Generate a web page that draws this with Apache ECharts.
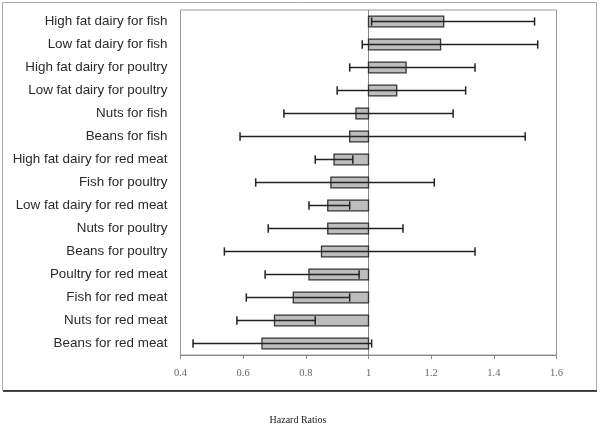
<!DOCTYPE html>
<html>
<head>
<meta charset="utf-8">
<script src="https://cdn.jsdelivr.net/npm/echarts@6/dist/echarts.min.js"></script>
<style>
html,body{margin:0;padding:0;background:#fff;}
#chart{width:601px;height:426px;}
</style>
</head>
<body>
<div id="chart"></div>
<script>
const categories = [
  "High fat dairy for fish",
  "Low fat dairy for fish",
  "High fat dairy for poultry",
  "Low fat dairy for poultry",
  "Nuts for fish",
  "Beans for fish",
  "High fat dairy for red meat",
  "Fish for poultry",
  "Low fat dairy for red meat",
  "Nuts for poultry",
  "Beans for poultry",
  "Poultry for red meat",
  "Fish for red meat",
  "Nuts for red meat",
  "Beans for red meat"
];
const hazardRatio = [1.24, 1.23, 1.12, 1.09, 0.96, 0.94, 0.89, 0.88, 0.87, 0.87, 0.85, 0.81, 0.76, 0.70, 0.66];
const ciLower     = [1.01, 0.98, 0.94, 0.90, 0.73, 0.59, 0.83, 0.64, 0.81, 0.68, 0.54, 0.67, 0.61, 0.58, 0.44];
const ciUpper     = [1.53, 1.54, 1.34, 1.31, 1.27, 1.50, 0.95, 1.21, 0.94, 1.11, 1.34, 0.97, 0.94, 0.83, 1.01];
const xTicks = { min: 0.4, max: 1.6, interval: 0.2 };
const baseline = 1;
const axisTitle = "Hazard Ratios";

const data = categories.map((c, i) => [i, hazardRatio[i], ciLower[i], ciUpper[i]]);

const chart = echarts.init(document.getElementById('chart'), null, {renderer: 'canvas'});

function renderItem(params, api) {
  const i = api.value(0);
  const hr = api.value(1), lo = api.value(2), hi = api.value(3);
  const band = api.size([0, 1])[1];
  const bh = band * 0.47;
  const ch = band * 0.36;
  const pBase = api.coord([baseline, i]);
  const pHr = api.coord([hr, i]);
  const pLo = api.coord([lo, i]);
  const pHi = api.coord([hi, i]);
  const x0 = Math.min(pBase[0], pHr[0]);
  const w = Math.abs(pBase[0] - pHr[0]);
  const y = pBase[1];
  return {
    type: 'group',
    children: [
      { type: 'rect', shape: { x: x0, y: y - bh / 2, width: w, height: bh },
        style: { fill: '#bdbdbd', stroke: '#333', lineWidth: 1.3 } },
      { type: 'line', shape: { x1: pLo[0], y1: y, x2: pHi[0], y2: y },
        style: { stroke: '#222', lineWidth: 1.5 } },
      { type: 'line', shape: { x1: pLo[0], y1: y - ch / 2, x2: pLo[0], y2: y + ch / 2 },
        style: { stroke: '#222', lineWidth: 1.5 } },
      { type: 'line', shape: { x1: pHi[0], y1: y - ch / 2, x2: pHi[0], y2: y + ch / 2 },
        style: { stroke: '#222', lineWidth: 1.5 } }
    ]
  };
}

chart.setOption({
  animation: false,
  backgroundColor: '#fff',
  grid: { left: 180.5, right: 44.5, top: 10, bottom: 71, containLabel: false,
          show: true, borderColor: '#999', borderWidth: 1 },
  xAxis: {
    type: 'value', min: xTicks.min, max: xTicks.max, interval: xTicks.interval,
    axisLine: { show: true, lineStyle: { color: '#888', width: 1 } },
    axisTick: { show: true, length: 4, lineStyle: { color: '#888' } },
    axisLabel: { color: '#666', fontFamily: 'Liberation Serif, Times New Roman, serif', fontSize: 10.5, margin: 13 },
    splitLine: { show: false }
  },
  yAxis: {
    type: 'category', data: categories, inverse: true,
    axisLine: { show: false }, axisTick: { show: false },
    axisLabel: { color: '#2a2a2a', fontFamily: 'Liberation Sans, Arial, sans-serif', fontSize: 13.4, margin: 13 },
    splitLine: { show: false }
  },
  series: [{
    type: 'custom',
    renderItem: renderItem,
    encode: { x: [1, 2, 3], y: 0 },
    data: data,
    z: 3,
    markLine: {
      silent: true, symbol: 'none', label: { show: false },
      lineStyle: { color: '#888', type: 'solid', width: 1 },
      data: [{ xAxis: baseline }],
      z: 2
    }
  }],
  graphic: [
    { type: 'rect', shape: { x: 2.5, y: 2.5, width: 594, height: 388 },
      style: { fill: 'none', stroke: '#aaa', lineWidth: 1 }, silent: true },
    { type: 'line', shape: { x1: 3, y1: 391, x2: 597, y2: 391 },
      style: { stroke: '#111', lineWidth: 1.5 }, silent: true },
    { type: 'text', x: 298, y: 420,
      style: { text: axisTitle, fill: '#222', font: '10px "Liberation Serif", "Times New Roman", serif',
               textAlign: 'center', textVerticalAlign: 'middle' } }
  ]
});
</script>
</body>
</html>
